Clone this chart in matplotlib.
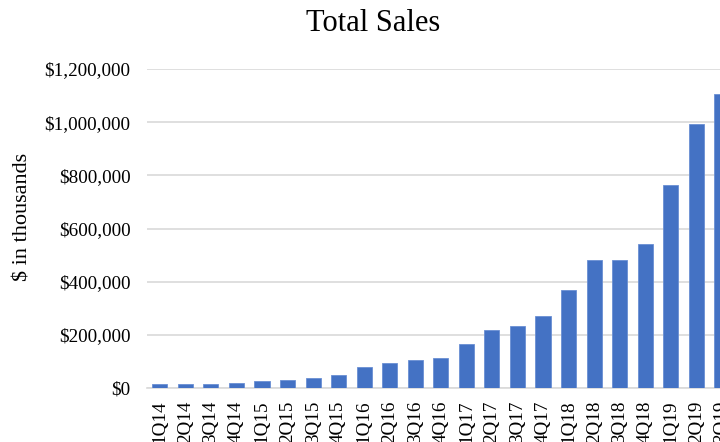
import matplotlib
matplotlib.use('Agg')

import matplotlib.pyplot as plt
from matplotlib.ticker import FuncFormatter
import numpy as np

quarters = ['1Q14', '2Q14', '3Q14', '4Q14',
            '1Q15', '2Q15', '3Q15', '4Q15',
            '1Q16', '2Q16', '3Q16', '4Q16',
            '1Q17', '2Q17', '3Q17', '4Q17',
            '1Q18', '2Q18', '3Q18', '4Q18',
            '1Q19', '2Q19', '3Q19']
sales = [15000, 15000, 15000, 20000,
         27000, 31000, 39000, 50000,
         80000, 94000, 105000, 111000,
         166000, 217000, 235000, 271000,
         369000, 483000, 482000, 543000,
         763000, 994000, 1105000]
yticks = [0, 200000, 400000, 600000, 800000, 1000000, 1200000]

plt.rcParams['font.family'] = ['Liberation Serif', 'DejaVu Serif']

W, H = 720, 442
fig = plt.figure(figsize=(W / 100, H / 100), dpi=100)

# axes runs past the right edge of the figure, the picture is cropped
left, right = 147, 147 + 23 * 25.55
bottom, top = 388, 69
ax = fig.add_axes([left / W, 1 - bottom / H, (right - left) / W, (bottom - top) / H])

x = np.arange(len(quarters))
ax.bar(x, sales, width=0.59, color='#4472C4', edgecolor='#6a8fd3',
       linewidth=0.6, zorder=3)

ax.set_xlim(-0.5, len(quarters) - 0.5)
ax.set_ylim(0, 1200000)
ax.set_yticks(yticks)
ax.yaxis.set_major_formatter(FuncFormatter(lambda v, p: '${:,.0f}'.format(v)))
ax.set_xticks(x)
ax.set_xticklabels(quarters, rotation=90, va='top', ha='center')

ax.grid(axis='y', color='#d9d9d9', linewidth=1.2, zorder=0)
for side in ['top', 'right', 'left']:
    ax.spines[side].set_visible(False)
ax.spines['bottom'].set_color('#d9d9d9')
ax.spines['bottom'].set_linewidth(1.2)
ax.tick_params(axis='y', length=0, pad=12, labelsize=13.8)
ax.tick_params(axis='x', length=0, pad=9, labelsize=13.8)

fig.text(23 / W, 1 - 217 / H, '$ in thousands', rotation=90,
         ha='center', va='center', fontsize=16)
fig.text(373 / W, 1 - 23.5 / H, 'Total Sales', ha='center', va='center',
         fontsize=22)

plt.savefig('out.png', dpi=100)
plt.close(fig)
